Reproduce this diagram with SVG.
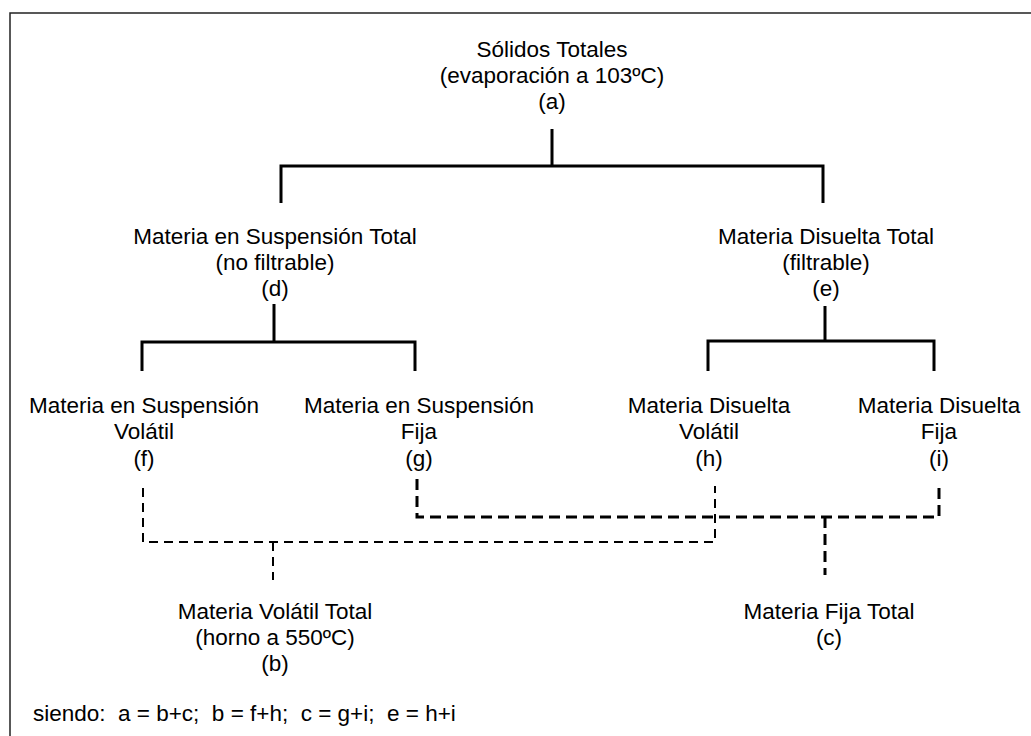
<svg xmlns="http://www.w3.org/2000/svg" width="1031" height="736" viewBox="0 0 1031 736">
<style>
text{font-family:"Liberation Sans",Arial,sans-serif;font-size:22.5px;fill:#000;text-anchor:middle}
.solid{fill:none;stroke:#000;stroke-width:3;stroke-linejoin:miter;stroke-linecap:butt}
.thin{fill:none;stroke:#000;stroke-width:2;stroke-dasharray:9 6}
.thick{fill:none;stroke:#000;stroke-width:3;stroke-dasharray:11 6}
.frame{fill:none;stroke:#222;stroke-width:1.5}
</style>
<rect class="frame" x="10" y="13" width="1040" height="740"/>
<g id="connectors">
<path class="solid" d="M552 129V166M281 203V166H823V203"/>
<path class="solid" d="M274 304V342M142 371V342H415V371"/>
<path class="solid" d="M825 306V341M708 371V341H934V371"/>
<path class="thin" d="M143 488V542H715V486"/>
<path class="thin" d="M273 542V580"/>
<path class="thick" d="M417 479V517H939V482"/>
<path class="thick" d="M825 517V575"/>
</g>
<g id="node-a"><text x="552" y="57">Sólidos Totales</text><text x="552" y="83">(evaporación a 103ºC)</text><text x="552" y="109">(a)</text></g>
<g id="node-d"><text x="275" y="244">Materia en Suspensión Total</text><text x="275" y="270">(no filtrable)</text><text x="275" y="296">(d)</text></g>
<g id="node-e"><text x="826" y="244">Materia Disuelta Total</text><text x="826" y="270">(filtrable)</text><text x="826" y="296">(e)</text></g>
<g id="node-f"><text x="144" y="413">Materia en Suspensión</text><text x="144" y="439">Volátil</text><text x="144" y="466">(f)</text></g>
<g id="node-g"><text x="419" y="413">Materia en Suspensión</text><text x="419" y="439">Fija</text><text x="419" y="466">(g)</text></g>
<g id="node-h"><text x="709" y="413">Materia Disuelta</text><text x="709" y="439">Volátil</text><text x="709" y="466">(h)</text></g>
<g id="node-i"><text x="939" y="413">Materia Disuelta</text><text x="939" y="439">Fija</text><text x="939" y="466">(i)</text></g>
<g id="node-b"><text x="275" y="619">Materia Volátil Total</text><text x="275" y="645">(horno a 550ºC)</text><text x="275" y="671">(b)</text></g>
<g id="node-c"><text x="829" y="619">Materia Fija Total</text><text x="829" y="645">(c)</text></g>
<g id="legend"><text x="33" y="721" style="text-anchor:start;white-space:pre" xml:space="preserve">siendo:  a = b+c;  b = f+h;  c = g+i;  e = h+i</text></g>
</svg>
